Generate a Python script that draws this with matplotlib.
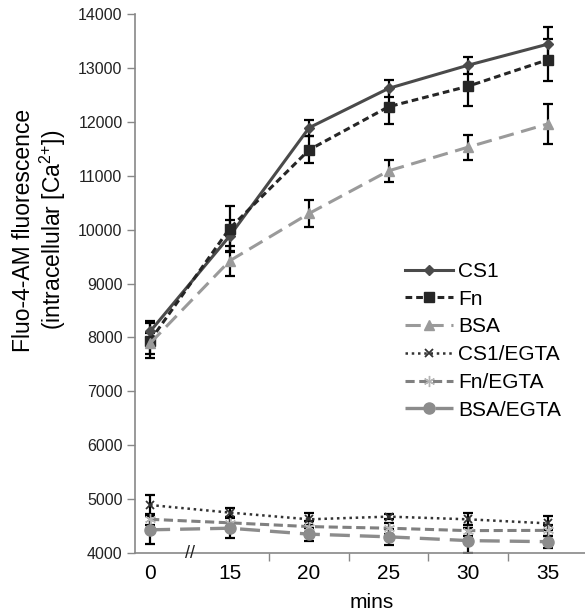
import matplotlib
matplotlib.use("Agg")
import matplotlib.pyplot as plt
import numpy as np

plt.rcParams['font.family'] = ['Liberation Sans', 'DejaVu Sans']
plt.rcParams['mathtext.fontset'] = 'custom'
plt.rcParams['mathtext.rm'] = 'Liberation Sans'

time_labels = ["0", "15", "20", "25", "30", "35"]

cs1 = [8110, 9880, 11890, 12620, 13050, 13440]
cs1_err = [200, 300, 145, 155, 160, 320]
fn = [7940, 10020, 11480, 12280, 12660, 13150]
fn_err = [330, 420, 250, 320, 370, 385]
bsa = [7890, 9420, 10300, 11090, 11530, 11960]
bsa_err = [200, 280, 250, 200, 230, 370]
cs1_egta = [4890, 4750, 4625, 4675, 4625, 4550]
cs1_egta_err = [190, 90, 110, 50, 110, 130]
fn_egta = [4625, 4560, 4490, 4460, 4415, 4420]
fn_egta_err = [100, 100, 100, 100, 100, 100]
bsa_egta = [4430, 4460, 4350, 4300, 4230, 4210]
bsa_egta_err = [260, 190, 120, 150, 230, 110]

fig = plt.figure(figsize=(5.85, 6.12), dpi=100)
ax = fig.add_axes([135/585, 1-553/612, 450/585, (553-14)/612])

x = np.arange(len(time_labels))

series = [
    ("CS1", cs1, cs1_err, dict(color="#4a4a4a", ls="-", lw=2.2, marker="D", ms=5)),
    ("Fn", fn, fn_err, dict(color="#262626", ls=(0, (2.2, 1.3)), lw=2.2, marker="s", ms=7)),
    ("BSA", bsa, bsa_err, dict(color="#9a9a9a", ls=(0, (5, 2.5)), lw=2.2, marker="^", ms=7)),
    ("CS1/EGTA", cs1_egta, cs1_egta_err, dict(color="#333333", ls=(0, (1, 1.5)), lw=1.8, marker="x", ms=6, mew=1.3)),
    ("Fn/EGTA", fn_egta, fn_egta_err, dict(color="#808080", ls=(0, (3, 1.5)), lw=2.2, marker=(6, 2, 0), ms=8, mew=1.0, mec="#b5b5b5")),
    ("BSA/EGTA", bsa_egta, bsa_egta_err, dict(color="#8c8c8c", ls=(0, (6, 3)), lw=2.4, marker="o", ms=8)),
]

for name, vals, errs, st in series:
    ax.errorbar(x, vals, yerr=errs, fmt="none", ecolor="black", elinewidth=1.6,
                capsize=3.5, capthick=1.6, zorder=2)

handles = []
for name, vals, errs, st in series:
    h, = ax.plot(x, vals, label=name, zorder=3, **st)
    handles.append(h)

ax.set_xlim(-0.19, 5.47)
ax.set_ylim(4000, 14000)
ax.set_yticks(np.arange(4000, 14001, 1000))
ax.set_xticks(x)
ax.set_xticklabels(time_labels, fontsize=15)
ax.set_xticks([1.5, 2.5, 3.5, 4.5], minor=True)
ax.tick_params(axis="x", which="major", length=0, pad=8)
ax.tick_params(axis="x", which="minor", length=6, width=1, color="#888888", direction="out")
ax.tick_params(axis="y", labelsize=11.5, length=6, width=1, color="#888888",
               labelcolor="#222222", pad=3)

for s in ["top", "right"]:
    ax.spines[s].set_visible(False)
for s in ["left", "bottom"]:
    ax.spines[s].set_color("#888888")
    ax.spines[s].set_linewidth(1.2)

ax.text(0.5, 4000, "//", ha="center", va="center", fontsize=13,
        color="#222222", clip_on=False, zorder=5)

ax.set_xlabel("mins", fontsize=15, labelpad=7)
ax.xaxis.label.set_position(((372-135)/450, 0))

fig.text(40/585, 1-230/612, "Fluo-4-AM fluorescence\n(intracellular [Ca$\\mathregular{^{2{+}}}$])",
         fontsize=16.5, rotation=90, ha="center", va="center", linespacing=1.15,
         multialignment="center")

leg = ax.legend(handles=handles, loc="upper left", bbox_to_anchor=((405-135)/450, (553-262)/539),
                frameon=False, fontsize=15, handlelength=2.3, handletextpad=0.25,
                labelspacing=0.42, numpoints=1, borderpad=0, borderaxespad=0)

fig.savefig("out.png", dpi=100)
